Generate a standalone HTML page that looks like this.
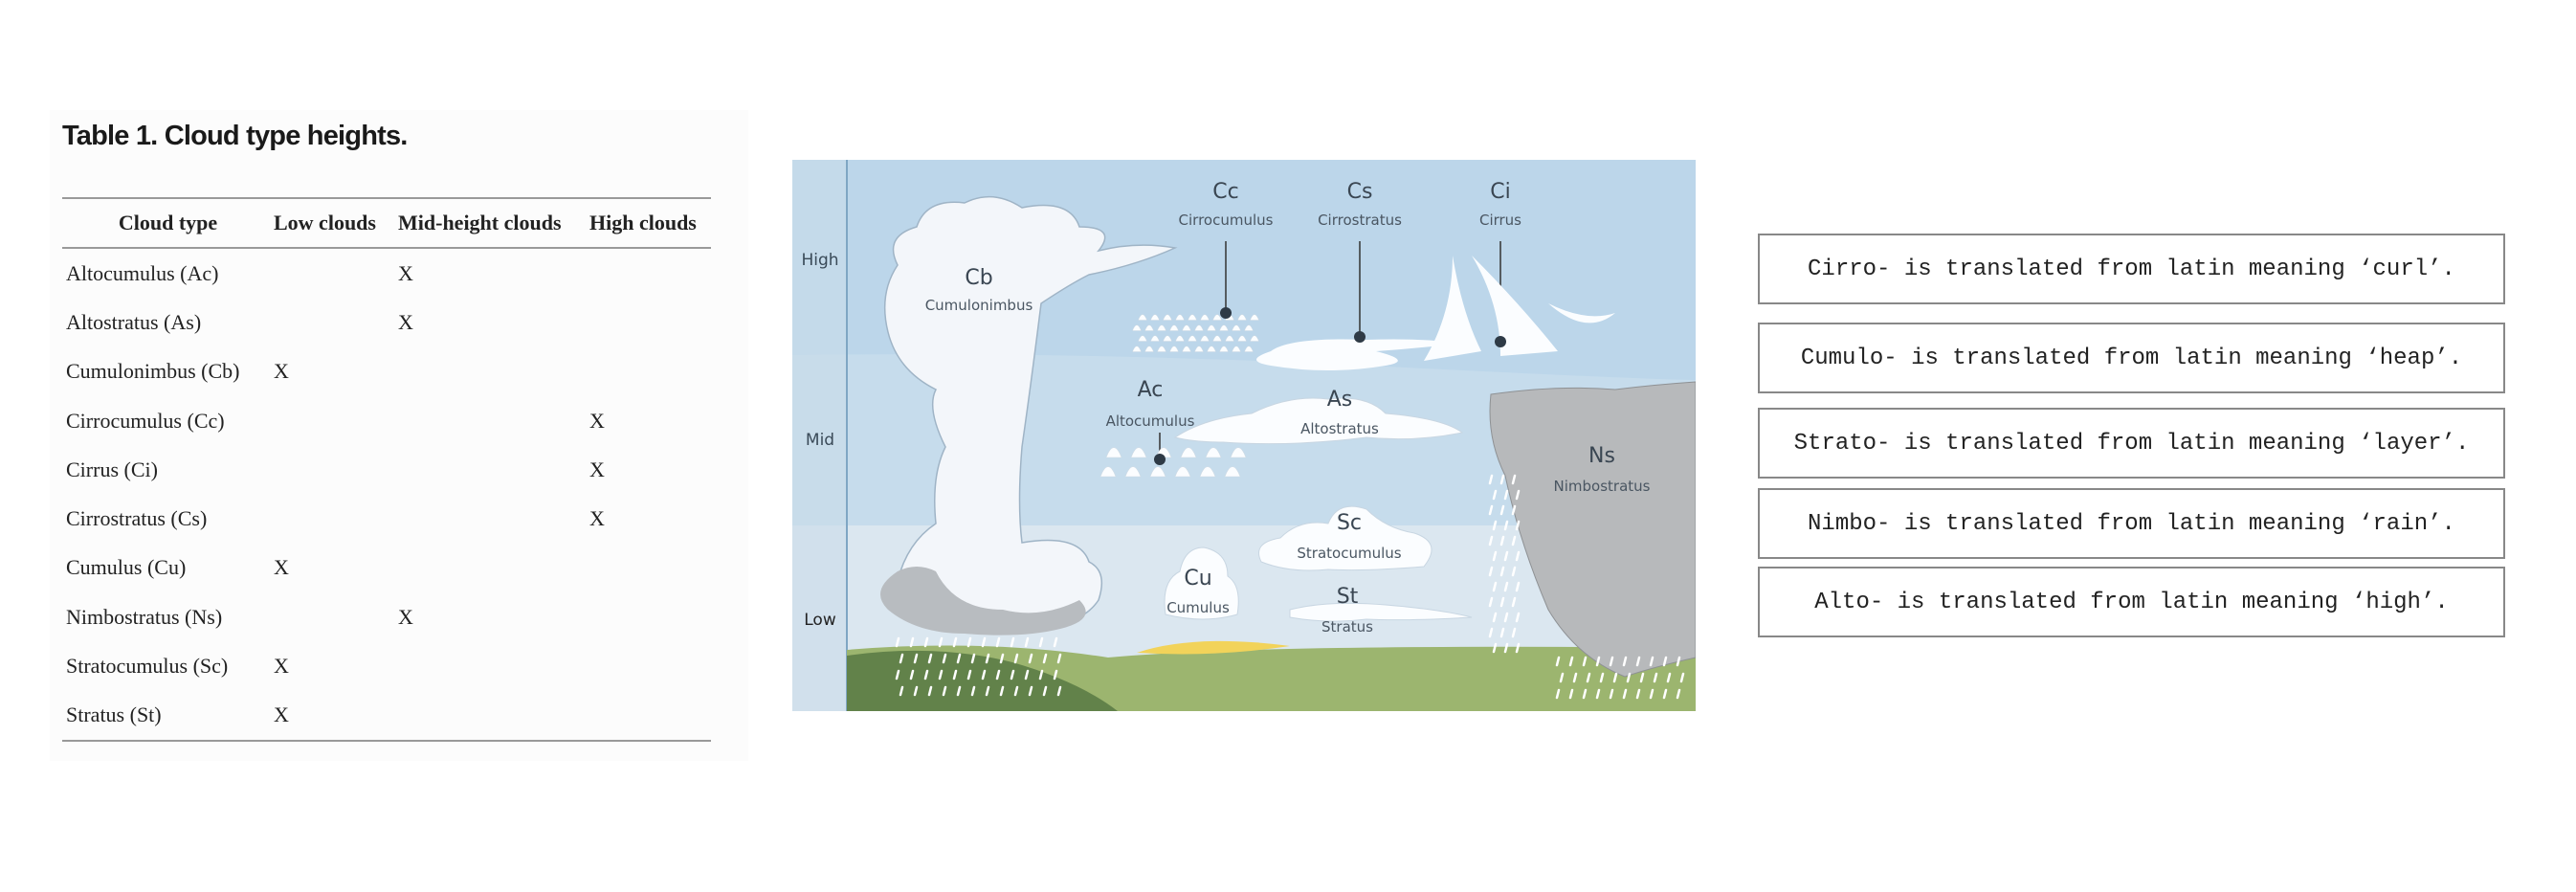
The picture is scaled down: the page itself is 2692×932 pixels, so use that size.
<!DOCTYPE html>
<html><head><meta charset="utf-8">
<style>
html,body{margin:0;padding:0;background:#fff;}
body{width:2692px;height:932px;position:relative;overflow:hidden;}
.tablebg{position:absolute;left:52px;top:115px;width:730px;height:680px;background:#fcfcfc;}
.title{position:absolute;left:65px;top:126px;font:bold 29px "Liberation Sans",sans-serif;color:#1a1a1a;letter-spacing:-0.8px;}
table{position:absolute;left:65px;top:206px;width:678px;border-collapse:collapse;font:22px "Liberation Serif",serif;color:#222;}
table{border-top:2px solid #999;border-bottom:2px solid #999;}
th{font-weight:bold;height:50px;text-align:left;padding:0 0 0 4px;border-bottom:2px solid #999;white-space:nowrap;}
td{height:51.3px;padding:0 0 0 4px;white-space:nowrap;}
.box{position:absolute;left:1837px;width:781px;border:2px solid #888;box-sizing:border-box;font:24px "Liberation Mono",monospace;color:#222;display:flex;align-items:center;justify-content:center;background:#fff;}
svg text{font-family:"DejaVu Sans",sans-serif;}
</style></head><body>
<div class="tablebg"></div>
<div class="title">Table 1. Cloud type heights.</div>
<table>
<colgroup><col style="width:217px"><col style="width:130px"><col style="width:200px"><col></colgroup>
<tr><th style="text-align:center">Cloud type</th><th>Low clouds</th><th>Mid-height clouds</th><th>High clouds</th></tr>
<tr><td>Altocumulus (Ac)</td><td></td><td>X</td><td></td></tr>
<tr><td>Altostratus (As)</td><td></td><td>X</td><td></td></tr>
<tr><td>Cumulonimbus (Cb)</td><td>X</td><td></td><td></td></tr>
<tr><td>Cirrocumulus (Cc)</td><td></td><td></td><td>X</td></tr>
<tr><td>Cirrus (Ci)</td><td></td><td></td><td>X</td></tr>
<tr><td>Cirrostratus (Cs)</td><td></td><td></td><td>X</td></tr>
<tr><td>Cumulus (Cu)</td><td>X</td><td></td><td></td></tr>
<tr><td>Nimbostratus (Ns)</td><td></td><td>X</td><td></td></tr>
<tr><td>Stratocumulus (Sc)</td><td>X</td><td></td><td></td></tr>
<tr><td>Stratus (St)</td><td>X</td><td></td><td></td></tr>
</table>

<svg style="position:absolute;left:828px;top:167px" width="944" height="576" viewBox="0 0 944 576">
<rect x="0" y="0" width="944" height="260" fill="#bcd6ea"/>
<path d="M0 204 Q300 200 600 215 T944 230 L944 382 L0 382Z" fill="#c6dcec"/>
<rect x="0" y="382" width="944" height="194" fill="#dbe7f0"/>
<rect x="0" y="0" width="57" height="576" fill="#c9dcea" opacity="0.6"/>
<line x1="57" y1="0" x2="57" y2="576" stroke="#7fa6c4" stroke-width="2"/>
<text x="29" y="110" font-size="17" fill="#3a4a58" text-anchor="middle">High</text>
<text x="29" y="298" font-size="17" fill="#3a4a58" text-anchor="middle">Mid</text>
<text x="29" y="486" font-size="17" fill="#222" text-anchor="middle">Low</text>
<path d="M57 512 Q200 500 330 520 Q500 505 944 510 L944 576 L57 576Z" fill="#9cb56f"/>
<path d="M57 518 Q150 505 230 525 Q300 545 340 576 L57 576Z" fill="#62824a"/>
<path d="M360 515 Q420 495 520 508 Q440 520 360 515Z" fill="#f2d35a"/>
<!-- Cb -->
<path d="M130 480 Q90 470 110 440 Q120 400 150 380 Q145 330 160 300 Q140 260 150 240 Q110 220 100 180 Q90 140 110 110 Q95 80 130 70 Q140 40 180 45 Q210 30 240 50 Q290 40 300 70 Q340 70 320 95 Q360 85 400 92 Q360 110 310 120 Q290 130 260 150 Q250 230 240 300 Q235 360 240 400 Q300 390 310 420 Q330 430 320 460 Q300 490 240 490 Q200 500 160 490Z" fill="#f3f6fa" stroke="#9fb4c6" stroke-width="1.5"/>
<path d="M100 470 Q80 450 110 430 Q130 420 150 430 Q170 470 220 470 Q260 480 300 460 Q320 480 280 490 Q240 500 180 495 Q130 495 100 470Z" fill="#b8bcc0"/>
<text x="195" y="130" font-size="22" fill="#3a4652" text-anchor="middle">Cb</text>
<text x="195" y="157" font-size="15" fill="#4a5662" text-anchor="middle">Cumulonimbus</text>
<text x="453" y="40" font-size="22" fill="#3a4652" text-anchor="middle">Cc</text>
<text x="453" y="68" font-size="15" fill="#4a5662" text-anchor="middle">Cirrocumulus</text>
<line x1="453" y1="85" x2="453" y2="160" stroke="#333" stroke-width="1.5"/>
<g id="cc-dots" fill="#fbfdff" stroke="#cfd9e2" stroke-width="0.5"></g>
<circle cx="453" cy="160" r="6" fill="#2e3a46"/>
<text x="593" y="40" font-size="22" fill="#3a4652" text-anchor="middle">Cs</text>
<text x="593" y="68" font-size="15" fill="#4a5662" text-anchor="middle">Cirrostratus</text>
<line x1="593" y1="85" x2="593" y2="185" stroke="#333" stroke-width="1.5"/>
<path d="M500 200 Q520 185 600 188 Q660 186 700 192 Q640 198 610 200 Q650 210 620 215 Q560 225 500 215 Q470 210 500 200Z" fill="#fbfdff"/>
<circle cx="593" cy="185" r="6" fill="#2e3a46"/>
<text x="740" y="40" font-size="22" fill="#3a4652" text-anchor="middle">Ci</text>
<text x="740" y="68" font-size="15" fill="#4a5662" text-anchor="middle">Cirrus</text>
<line x1="740" y1="85" x2="740" y2="190" stroke="#333" stroke-width="1.5"/>
<path d="M690 100 Q700 160 720 200 L660 210 Q690 160 690 100Z M710 100 Q760 150 800 200 L740 205 Q740 150 710 100Z M790 150 Q830 170 860 160 Q830 185 790 150Z" fill="#fbfdff"/>
<circle cx="740" cy="190" r="6" fill="#2e3a46"/>
<text x="374" y="247" font-size="22" fill="#3a4652" text-anchor="middle">Ac</text>
<text x="374" y="278" font-size="15" fill="#4a5662" text-anchor="middle">Altocumulus</text>
<line x1="384" y1="285" x2="384" y2="313" stroke="#333" stroke-width="1.5"/>
<g id="ac-dots" fill="#fbfdff" stroke="#cfd9e2" stroke-width="0.5"></g>
<circle cx="384" cy="313" r="6" fill="#2e3a46"/>
<path d="M400 290 Q430 270 480 265 Q520 245 560 250 Q600 245 620 265 Q680 270 700 285 Q650 295 600 290 Q520 300 450 295 Q420 295 400 290Z" fill="#fbfdff" stroke="#c8d6e2"/>
<text x="572" y="257" font-size="22" fill="#3a4652" text-anchor="middle">As</text>
<text x="572" y="286" font-size="15" fill="#4a5662" text-anchor="middle">Altostratus</text>
<path d="M730 245 Q800 235 860 240 Q900 235 944 232 L944 520 Q900 530 870 540 Q820 520 790 470 Q760 400 745 330 Q725 290 730 245Z" fill="#b7b9bb" stroke="#8e9194"/>
<text x="846" y="316" font-size="22" fill="#3a4652" text-anchor="middle">Ns</text>
<text x="846" y="346" font-size="15" fill="#4a5662" text-anchor="middle">Nimbostratus</text>
<path d="M490 420 Q480 400 510 395 Q530 375 560 380 Q570 355 600 365 Q620 385 650 390 Q680 400 660 425 Q600 430 560 428 Q520 432 490 420Z" fill="#fbfdff" stroke="#c8d6e2"/>
<text x="582" y="386" font-size="22" fill="#3a4652" text-anchor="middle">Sc</text>
<text x="582" y="416" font-size="15" fill="#4a5662" text-anchor="middle">Stratocumulus</text>
<path d="M390 475 Q385 440 405 430 Q410 405 430 405 Q455 410 455 435 Q470 445 465 475 Q430 485 390 475Z" fill="#fbfdff" stroke="#c8d6e2"/>
<text x="424" y="444" font-size="22" fill="#3a4652" text-anchor="middle">Cu</text>
<text x="424" y="473" font-size="15" fill="#4a5662" text-anchor="middle">Cumulus</text>
<path d="M520 470 Q560 460 620 465 Q680 470 710 478 Q640 482 600 480 Q560 485 520 478Z" fill="#fbfdff" stroke="#c8d6e2"/>
<text x="580" y="463" font-size="22" fill="#3a4652" text-anchor="middle">St</text>
<text x="580" y="493" font-size="15" fill="#4a5662" text-anchor="middle">Stratus</text>
<g id="rain" stroke="#fff" stroke-width="2.5" stroke-linecap="round"></g>
</svg>

<div class="box" style="top:244px;height:74px">Cirro- is translated from latin meaning ‘curl’.</div>
<div class="box" style="top:337px;height:74px">Cumulo- is translated from latin meaning ‘heap’.</div>
<div class="box" style="top:426px;height:74px">Strato- is translated from latin meaning ‘layer’.</div>
<div class="box" style="top:510px;height:74px">Nimbo- is translated from latin meaning ‘rain’.</div>
<div class="box" style="top:592px;height:74px">Alto- is translated from latin meaning ‘high’.</div>

<script>
var ns='http://www.w3.org/2000/svg';
function tri(g,x,y,s){var p=document.createElementNS(ns,'path');p.setAttribute('d','M'+(x-s)+' '+(y+s)+' Q'+x+' '+(y-s*1.6)+' '+(x+s)+' '+(y+s)+'Z');g.appendChild(p);}
var cc=document.getElementById('cc-dots');
for(var r=0;r<4;r++)for(var c=0;c<10;c++)tri(cc,360+c*13+(r%2?0:6),163+r*11,4.5);
var ac=document.getElementById('ac-dots');
for(var r=0;r<2;r++)for(var c=0;c<6;c++)tri(ac,330+c*26+(r?0:6),303+r*20,8);
var rn=document.getElementById('rain');
function drops(x0,y0,nx,ny,dx,dy){for(var i=0;i<ny;i++)for(var j=0;j<nx;j++){var l=document.createElementNS(ns,'line');var x=x0+j*dx+(i%2)*4,y=y0+i*dy;l.setAttribute('x1',x+1);l.setAttribute('y1',y);l.setAttribute('x2',x-1);l.setAttribute('y2',y+8);rn.appendChild(l);}}
drops(110,500,12,4,15,17);
drops(800,520,10,3,14,17);
drops(730,330,3,12,12,16);
</script>
</body></html>
